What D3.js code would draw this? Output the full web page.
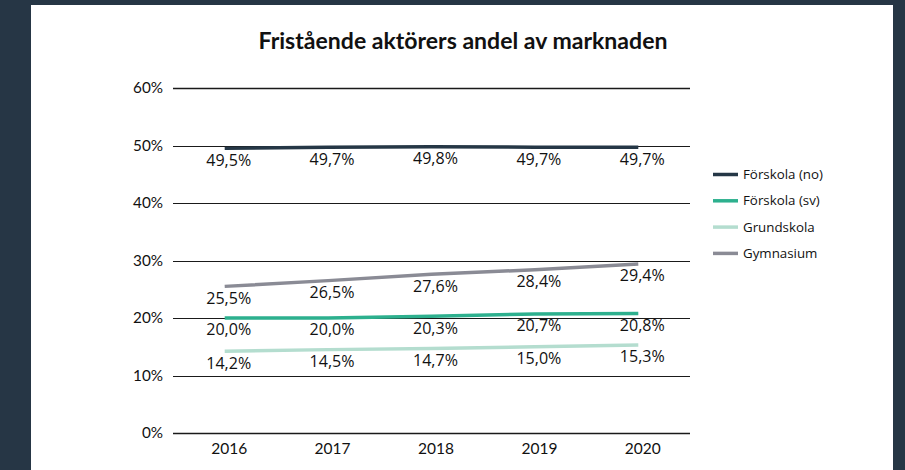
<!DOCTYPE html>
<html><head><meta charset="utf-8">
<script src="https://cdn.jsdelivr.net/npm/d3@7"></script>
<style>
html,body{margin:0;padding:0;background:#263645;}
svg{display:block;}
</style></head>
<body>
<svg id="chart" width="905" height="470"></svg>
<script>
const title = "Fristående aktörers andel av marknaden";
const years = ["2016","2017","2018","2019","2020"];
const seriesNames = ["Förskola (no)","Förskola (sv)","Grundskola","Gymnasium"];
const forskolaNo = [49.5, 49.7, 49.8, 49.7, 49.7];
const forskolaSv = [20.0, 20.0, 20.3, 20.7, 20.8];
const grundskola = [14.2, 14.5, 14.7, 15.0, 15.3];
const gymnasium = [25.5, 26.5, 27.6, 28.4, 29.4];
const yTicks = [0, 10, 20, 30, 40, 50, 60];
const colors = ["#253746", "#2db08e", "#b4ddcf", "#8a8b95"];

const series = [forskolaNo, forskolaSv, grundskola, gymnasium].map((v,i)=>({name:seriesNames[i], values:v, color:colors[i]}));

const svg = d3.select("#chart");
svg.append("rect").attr("x",31).attr("y",5).attr("width",862).attr("height",465).attr("fill","#ffffff");

const x = d3.scalePoint().domain(years).range([173,690]).padding(0.5);
const y = d3.scaleLinear().domain([0,60]).range([433,88]);

// font-size fitting helper: size so that sample text has target width
function fitSize(family, weight, sample, target){
  const t = svg.append("text").attr("font-family",family).attr("font-weight",weight)
    .attr("font-size",100).text(sample);
  const w = t.node().getComputedTextLength();
  t.remove();
  return 100*target/w;
}
const labelFont = "'Open Sans', sans-serif";
const axisFont = "Lato, sans-serif";
const fsData = fitSize(labelFont,"normal","49,5%",45);
const fsX = fitSize(axisFont,"normal","2016",36);
const fsY = fitSize(axisFont,"normal","60%",30);
const fsTitle = fitSize(axisFont,"bold",title,409);
const fsLegend = fitSize(labelFont,"normal","Förskola (no)",80);

// gridlines
svg.append("g").selectAll("line").data(yTicks).join("line")
  .attr("x1",173).attr("x2",690)
  .attr("y1",d=>Math.round(y(d))+0.5).attr("y2",d=>Math.round(y(d))+0.5)
  .attr("stroke","#1a1a1a").attr("stroke-width",d=>(d===0||d===60)?1.3:1);

// y axis labels
const yAxis = d3.axisLeft(y).tickValues(yTicks).tickFormat(d=>d+"%").tickSize(0).tickPadding(10);
const gy = svg.append("g").attr("transform","translate(173,0)").call(yAxis);
gy.select(".domain").remove();
gy.selectAll("text").attr("font-family",axisFont).attr("font-size",fsY).attr("fill","#111");

// x axis labels
const xAxis = d3.axisBottom(x).tickSize(0).tickPadding(0);
const gx = svg.append("g").attr("transform","translate(4,433)").call(xAxis);
gx.select(".domain").remove();
gx.selectAll("text").attr("font-family",axisFont).attr("font-size",fsX).attr("fill","#111")
  .attr("y",16).attr("dy","0.35em");

// lines
const line = d3.line().x((d,i)=>x(years[i])).y(d=>y(d));
svg.append("g").selectAll("path").data(series).join("path")
  .attr("d",d=>line(d.values)).attr("fill","none")
  .attr("stroke",d=>d.color).attr("stroke-width",3.5).attr("stroke-linecap","butt");

// data labels
const fmt = v => v.toFixed(1).replace(".",",") + "%";
series.forEach(s=>{
  svg.append("g").selectAll("text").data(s.values).join("text")
    .attr("x",(d,i)=>x(years[i])+4)
    .attr("y",d=>y(d)+11.5)
    .attr("dy","0.36em")
    .attr("text-anchor","middle")
    .attr("font-family",labelFont).attr("font-size",fsData).attr("fill","#111")
    .text(fmt);
});

// title
svg.append("text").attr("x",463).attr("y",49).attr("text-anchor","middle")
  .attr("font-family",axisFont).attr("font-weight","bold").attr("font-size",fsTitle).attr("fill","#111")
  .text(title);

// legend
const lg = svg.append("g").selectAll("g").data(series).join("g")
  .attr("transform",(d,i)=>`translate(713,${174.5+i*26.3})`);
lg.append("line").attr("x1",0).attr("x2",25).attr("y1",0).attr("y2",0)
  .attr("stroke",d=>d.color).attr("stroke-width",3.5);
lg.append("text").attr("x",30).attr("y",0).attr("dy","0.35em").attr("font-family",labelFont)
  .attr("font-size",fsLegend).attr("fill","#111").text(d=>d.name);
</script>
</body></html>
